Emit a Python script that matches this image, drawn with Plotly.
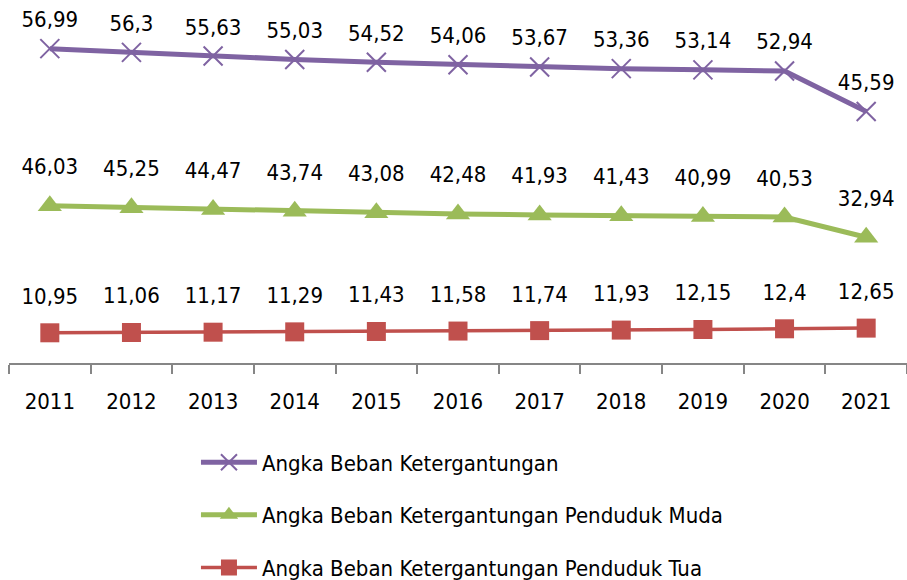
import plotly.graph_objects as go

years = ["2011", "2012", "2013", "2014", "2015", "2016", "2017", "2018", "2019", "2020", "2021"]
total = [56.99, 56.3, 55.63, 55.03, 54.52, 54.06, 53.67, 53.36, 53.14, 52.94, 45.59]
muda = [46.03, 45.25, 44.47, 43.74, 43.08, 42.48, 41.93, 41.43, 40.99, 40.53, 32.94]
tua = [10.95, 11.06, 11.17, 11.29, 11.43, 11.58, 11.74, 11.93, 12.15, 12.4, 12.65]

names = ["Angka Beban Ketergantungan",
         "Angka Beban Ketergantungan Penduduk Muda",
         "Angka Beban Ketergantungan Penduduk Tua"]

FONT = "DejaVu Sans Condensed, Roboto Condensed, Liberation Sans Narrow, Lato, sans-serif"
FS = 22

def fmt(vals):
    return [("%g" % v).replace(".", ",") for v in vals]

fig = go.Figure()
# series stacked in the order Excel drew them (Tua at the bottom)
specs = [
    (tua, names[2], "#C0504D", "square", 19, 3.5, None, 36, 3),
    (muda, names[1], "#9BBB59", "triangle-up", 21, 5, None, 40, 2),
    (total, names[0], "#7F63A2", "x-thin", 19, 5, dict(width=2, color="#7F63A2"), 24, 1),
]
for i, (vals, nm, col, sym, sz, lw, mline, lblsz, rank) in enumerate(specs):
    marker = dict(symbol=sym, size=sz, color=col)
    if mline:
        marker["line"] = mline
    fig.add_trace(go.Scatter(
        x=years, y=vals, name=nm, stackgroup="one", fill="none",
        mode="lines+markers", line=dict(color=col, width=lw), marker=marker,
        legendgroup="g%d" % i, legendrank=rank, cliponaxis=False,
        hoverinfo="x+text", text=fmt(vals),
    ))
# data labels (same stacking, invisible markers so labels sit higher above the points)
for i, (vals, nm, col, sym, sz, lw, mline, lblsz, rank) in enumerate(specs):
    fig.add_trace(go.Scatter(
        x=years, y=vals, stackgroup="labels", fill="none", mode="markers+text",
        text=fmt(vals), textposition="top center",
        textfont=dict(family=FONT, size=FS, color="#000000"),
        marker=dict(size=lblsz, color="rgba(0,0,0,0)"),
        showlegend=False, hoverinfo="skip", cliponaxis=False,
    ))

fig.update_layout(
    width=907, height=580,
    margin=dict(l=9, r=0, t=32, b=217, autoexpand=False),
    paper_bgcolor="white", plot_bgcolor="white",
    font=dict(family=FONT, size=FS, color="#000000"),
    showlegend=True,
    legend=dict(x=0.2082, y=-0.237, xanchor="left", yanchor="top",
                traceorder="grouped", tracegroupgap=21,
                font=dict(family=FONT, size=FS, color="#000000"),
                itemwidth=56, bgcolor="rgba(0,0,0,0)"),
    xaxis=dict(type="category", range=[-0.5, 10.5], showline=True, linecolor="#868686",
               linewidth=2, ticks="outside", tickson="boundaries", ticklen=9, tickwidth=2,
               tickcolor="#868686", showgrid=False, zeroline=False,
               tickfont=dict(family=FONT, size=FS, color="#000000"),
               ticklabelstandoff=18),
    yaxis=dict(visible=False, range=[0, 120], showgrid=False, zeroline=False),
)

fig.write_html("out.html", config={"displayModeBar": False},
               post_script="document.body.style.margin='0';")
